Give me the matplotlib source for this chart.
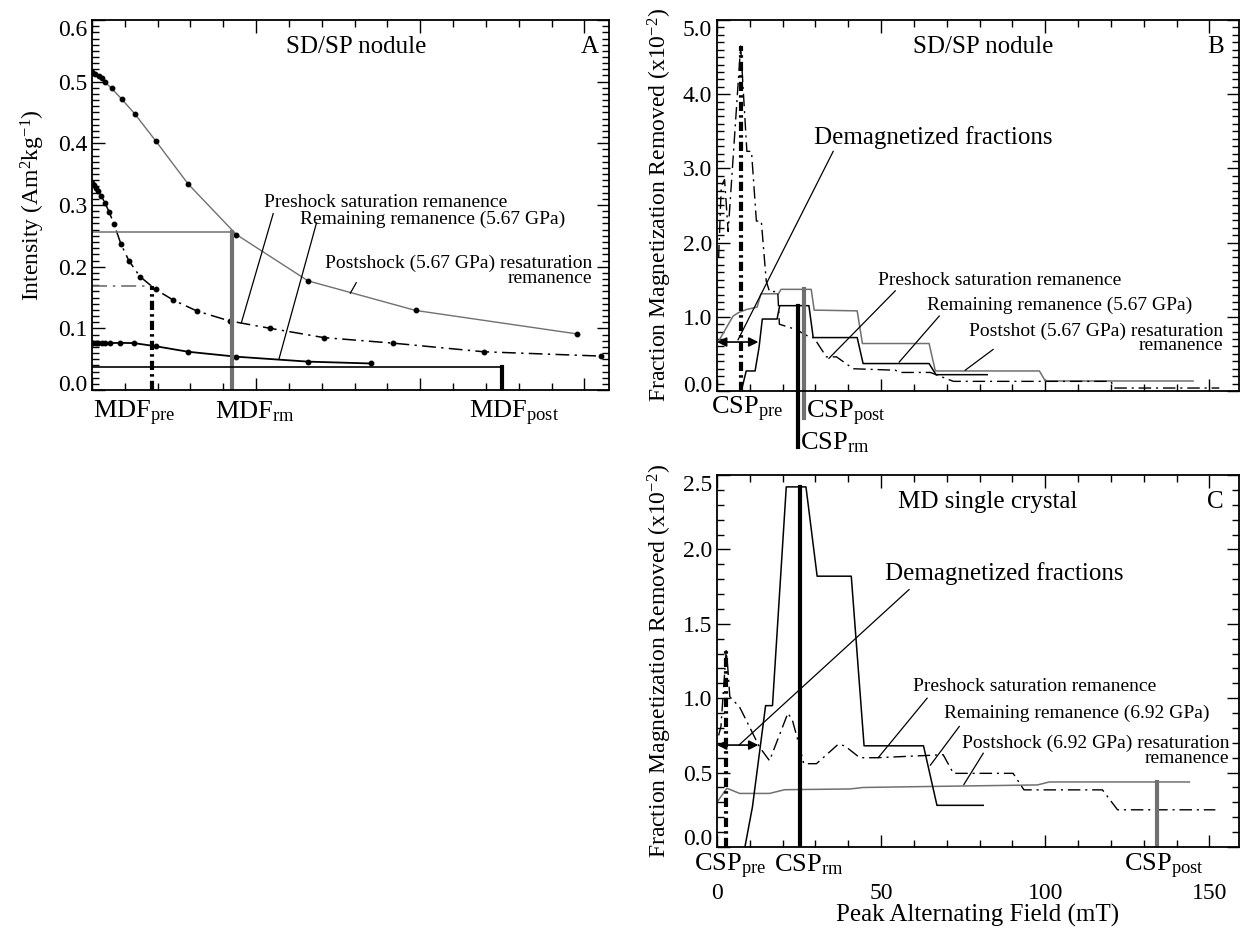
import matplotlib
matplotlib.use("Agg")
import matplotlib.pyplot as plt
from matplotlib.ticker import MultipleLocator, FormatStrFormatter, NullFormatter
from matplotlib.transforms import ScaledTranslation

plt.rcParams['font.family'] = ['Liberation Serif', 'DejaVu Serif']
plt.rcParams['mathtext.fontset'] = 'custom'
plt.rcParams['mathtext.rm'] = 'Liberation Serif'
plt.rcParams['mathtext.default'] = 'regular'

GRAY = '#707070'

# ---- panel A: AF demagnetization curves (mT, Am2/kg)
a_pre_x = [0, 0.7, 1.3, 1.9, 2.8, 4.0, 5.2, 6.7, 8.8, 11.2, 14.6, 19.4, 24.7, 32.0, 41.9, 54.3, 70.6, 91.7, 119.3, 155.0]
a_pre_y = [0.335, 0.332, 0.328, 0.322, 0.315, 0.303, 0.289, 0.269, 0.237, 0.210, 0.184, 0.163, 0.146, 0.128, 0.112, 0.100, 0.085, 0.076, 0.062, 0.055]
a_post_x = [0, 1, 2, 3, 4, 6, 9, 13, 19.4, 29.3, 44.0, 65.8, 98.6, 147.7]
a_post_y = [0.515, 0.512, 0.509, 0.506, 0.499, 0.489, 0.472, 0.448, 0.404, 0.334, 0.252, 0.177, 0.129, 0.091]
a_rm_x = [0, 0.4, 1.2, 1.9, 2.9, 3.9, 5.5, 8.5, 12.8, 19.4, 29.3, 44.0, 65.8, 85.0]
a_rm_y = [0.076, 0.076, 0.076, 0.076, 0.076, 0.076, 0.076, 0.0765, 0.076, 0.071, 0.062, 0.054, 0.046, 0.043]
mdf_pre, half_pre = 18.4, 0.168
mdf_rm, half_rm = 42.8, 0.257
mdf_post, half_post = 124.8, 0.038

# ---- panel B: fraction removed, SD/SP nodule (x10^-2)
b_pre_x = [0.5, 1.3, 2.3, 3.4, 7.2, 9.1, 10.5, 12.0, 13.5, 15.0, 16.0, 18.5, 19.0, 24.0, 28.5, 29.5, 33.3, 36.4, 41.5, 54.3, 56.0, 65.0, 72.0, 120.0, 121.0, 153.0]
b_pre_y = [1.8, 2.76, 2.85, 2.15, 4.65, 3.23, 3.23, 2.29, 2.29, 1.48, 1.34, 1.34, 0.90, 0.83, 0.72, 0.72, 0.46, 0.46, 0.30, 0.28, 0.25, 0.25, 0.13, 0.13, 0.04, 0.04]
b_rm_x = [7.4, 8.9, 11.6, 12.8, 13.8, 18.3, 19.1, 28.0, 29.3, 42.7, 44.5, 64.6, 66.7, 82.3]
b_rm_y = [0.0, 0.27, 0.27, 0.585, 0.97, 0.97, 1.15, 1.15, 0.72, 0.72, 0.37, 0.37, 0.22, 0.22]
b_post_x = [0.6, 4.9, 6.7, 9.1, 12.2, 13.4, 18.7, 19.5, 28.7, 29.6, 42.7, 44.3, 64.6, 66.5, 98.2, 100.0, 145.0]
b_post_y = [0.68, 1.01, 1.06, 1.10, 1.13, 1.31, 1.31, 1.37, 1.37, 1.09, 1.08, 0.64, 0.64, 0.27, 0.27, 0.135, 0.135]
csp_b_pre, csp_b_pre_top = 7.2, 4.65
csp_b_rm, csp_b_rm_top = 24.8, 1.15
csp_b_post, csp_b_post_top = 26.5, 1.37
demag_b = 12.6

# ---- panel C: fraction removed, MD single crystal (x10^-2)
c_pre_x = [0.5, 1.2, 2.8, 3.3, 3.9, 6.9, 13.0, 16.0, 21.6, 23.0, 25.2, 26.4, 30.3, 36.9, 38.9, 43.5, 48.6, 68.9, 72.0, 90.2, 93.5, 117.4, 122.0, 151.8]
c_pre_y = [0.75, 0.81, 1.32, 1.20, 1.01, 0.94, 0.67, 0.58, 0.90, 0.85, 0.67, 0.56, 0.56, 0.69, 0.68, 0.60, 0.60, 0.62, 0.495, 0.495, 0.384, 0.384, 0.25, 0.25]
c_rm_x = [8.5, 10.8, 14.8, 16.9, 21.1, 27.1, 30.5, 40.9, 44.8, 62.9, 67.0, 81.1]
c_rm_y = [0.0, 0.27, 0.95, 0.95, 2.42, 2.42, 1.82, 1.82, 0.68, 0.68, 0.28, 0.28]
c_post_x = [0.3, 3.0, 6.9, 16.0, 20.6, 40.5, 44.5, 75.0, 97.6, 101.2, 143.9]
c_post_y = [0.31, 0.395, 0.36, 0.36, 0.385, 0.39, 0.40, 0.41, 0.417, 0.437, 0.437]
csp_c_pre, csp_c_pre_top = 2.8, 1.32
csp_c_rm, csp_c_rm_top = 25.2, 2.42
csp_c_post, csp_c_post_top = 134.1, 0.437
demag_c = 12.6

DD_THIN = (0, (9, 3.5, 1.5, 3.5))
DD_THICK = (0, (2.2, 1.0, 0.6, 1.0))

fig = plt.figure(figsize=(12.42, 9.30), dpi=100)
W, H = 1242, 930
axA = fig.add_axes([92 / W, 1 - 390 / H, 517 / W, 370 / H])
axB = fig.add_axes([717 / W, 1 - 391 / H, 522 / W, 371 / H])
axC = fig.add_axes([717 / W, 1 - 847 / H, 522 / W, 372 / H])


def style(ax, ymaj, ymin):
    ax.xaxis.set_major_locator(MultipleLocator(50))
    ax.xaxis.set_minor_locator(MultipleLocator(10))
    ax.yaxis.set_major_locator(MultipleLocator(ymaj))
    ax.yaxis.set_minor_locator(MultipleLocator(ymin))
    ax.yaxis.set_major_formatter(FormatStrFormatter('%.1f'))
    ax.tick_params(which='both', direction='in', top=True, right=True, labelsize=17, width=1)
    ax.tick_params(which='major', length=9)
    ax.tick_params(which='minor', length=5)
    for s in ax.spines.values():
        s.set_linewidth(1.3)


def pull_end_labels(ax, up=5, down=6):
    # end labels sit a little inside the axis range, as in the original
    lo, hi = ax.get_ylim()
    locs = ax.yaxis.get_major_locator()()
    ticks = ax.yaxis.get_major_ticks(len(locs))
    for loc, t in zip(locs, ticks):
        if abs(loc - lo) < 1e-9:
            off = ScaledTranslation(0, up / 72, fig.dpi_scale_trans)
            t.label1.set_transform(t.label1.get_transform() + off)
        elif abs(loc - hi) < 1e-9:
            off = ScaledTranslation(0, -down / 72, fig.dpi_scale_trans)
            t.label1.set_transform(t.label1.get_transform() + off)


# ---------------- A
ax = axA
style(ax, 0.1, 0.01)
ax.set_xlim(0, 157.5)
ax.set_ylim(0, 0.6)
ax.xaxis.set_major_formatter(NullFormatter())
ax.plot(a_post_x, a_post_y, color=GRAY, lw=1.0)
ax.plot(a_post_x, a_post_y, 'o', color='black', ms=3.2)
ax.plot(a_pre_x, a_pre_y, color='black', lw=1.1, linestyle=DD_THIN)
ax.plot(a_pre_x, a_pre_y, 'o', color='black', ms=3.2)
ax.plot(a_rm_x, a_rm_y, color='black', lw=1.3)
ax.plot(a_rm_x, a_rm_y, 'o', color='black', ms=3.2)
ax.plot([0, mdf_rm], [half_rm, half_rm], color=GRAY, lw=1.1)
ax.plot([mdf_rm, mdf_rm], [0, half_rm], color=GRAY, lw=3)
ax.plot([0, mdf_pre], [half_pre, half_pre], color=GRAY, lw=1.2, linestyle=DD_THIN)
ax.plot([mdf_pre, mdf_pre], [0, half_pre], color='black', lw=3, linestyle=DD_THICK)
ax.plot([0, mdf_post], [half_post, half_post], color='black', lw=1.2)
ax.plot([mdf_post, mdf_post], [0, half_post], color='black', lw=3)
ax.set_ylabel('Intensity (Am$^{2}$kg$^{-1}$)', fontsize=17, labelpad=8)
ax.text(80.5, 0.557, 'SD/SP nodule', fontsize=18, ha='center', va='center')
ax.text(151.6, 0.557, 'A', fontsize=18, ha='center', va='center')
ax.text(52.5, 0.304, 'Preshock saturation remanence', fontsize=14, ha='left', va='center')
ax.text(63.3, 0.276, 'Remaining remanence (5.67 GPa)', fontsize=14, ha='left', va='center')
ax.text(152.4, 0.205, 'Postshock (5.67 GPa) resaturation', fontsize=14, ha='right', va='center')
ax.text(152.4, 0.181, 'remanence', fontsize=14, ha='right', va='center')
ax.plot([55.2, 45.5], [0.286, 0.109], color='black', lw=0.9)
ax.plot([68.4, 57.0], [0.271, 0.051], color='black', lw=0.9)
ax.plot([80.5, 78.7], [0.174, 0.157], color='black', lw=0.9)
xt = ax.get_xaxis_transform()
ax.text(0.3, -0.025, 'MDF$_{pre}$', fontsize=19, ha='left', va='top', transform=xt)
ax.text(37.5, -0.025, 'MDF$_{rm}$', fontsize=19, ha='left', va='top', transform=xt)
ax.text(114.7, -0.025, 'MDF$_{post}$', fontsize=19, ha='left', va='top', transform=xt)
pull_end_labels(ax)

# ---------------- B
ax = axB
style(ax, 1.0, 0.1)
ax.set_xlim(0, 159)
ax.set_ylim(0, 5.0)
ax.xaxis.set_major_formatter(NullFormatter())
ax.plot(b_post_x, b_post_y, color=GRAY, lw=1.1)
ax.plot(b_rm_x, b_rm_y, color='black', lw=1.1)
ax.plot(b_pre_x, b_pre_y, color='black', lw=1.0, linestyle=DD_THIN)
ax.plot([csp_b_pre, csp_b_pre], [0, csp_b_pre_top], color='black', lw=3, linestyle=DD_THICK)
ax.plot([csp_b_rm, csp_b_rm], [-0.76, csp_b_rm_top], color='black', lw=3, clip_on=False)
ax.plot([csp_b_post, csp_b_post], [-0.37, csp_b_post_top], color=GRAY, lw=3, clip_on=False)
ax.annotate('', xy=(0, 0.66), xytext=(demag_b, 0.66),
            arrowprops=dict(arrowstyle='<|-|>', color='black', lw=1.2, mutation_scale=14, shrinkA=0, shrinkB=0))
ax.plot([35.4, 6.4], [3.23, 0.69], color='black', lw=0.9)
ax.set_ylabel('Fraction Magnetization Removed (x10$^{-2}$)', fontsize=17, labelpad=6)
ax.text(81.1, 4.64, 'SD/SP nodule', fontsize=18, ha='center', va='center')
ax.text(151.8, 4.64, 'B', fontsize=18, ha='center', va='center')
ax.text(29.5, 3.42, 'Demagnetized fractions', fontsize=18, ha='left', va='center')
ax.text(49.1, 1.49, 'Preshock saturation remanence', fontsize=14, ha='left', va='center')
ax.text(64.0, 1.15, 'Remaining remanence (5.67 GPa)', fontsize=14, ha='left', va='center')
ax.text(154.3, 0.81, 'Postshot (5.67 GPa) resaturation', fontsize=14, ha='right', va='center')
ax.text(154.3, 0.61, 'remanence', fontsize=14, ha='right', va='center')
ax.plot([54.3, 34.1], [1.35, 0.44], color='black', lw=0.9)
ax.plot([67.7, 55.5], [1.01, 0.39], color='black', lw=0.9)
ax.plot([84.1, 75.6], [0.56, 0.28], color='black', lw=0.9)
xt = ax.get_xaxis_transform()
ax.text(-1.8, -0.01, 'CSP$_{pre}$', fontsize=19, ha='left', va='top', transform=xt)
ax.text(27.1, -0.02, 'CSP$_{post}$', fontsize=19, ha='left', va='top', transform=xt)
ax.text(25.3, -0.105, 'CSP$_{rm}$', fontsize=19, ha='left', va='top', transform=xt)
pull_end_labels(ax)

# ---------------- C
ax = axC
style(ax, 0.5, 0.1)
ax.set_xlim(0, 159)
ax.set_ylim(0, 2.5)
ax.xaxis.set_major_formatter(FormatStrFormatter('%d'))
ax.tick_params(axis='x', which='major', pad=26)
ax.plot(c_post_x, c_post_y, color=GRAY, lw=1.1)
ax.plot(c_rm_x, c_rm_y, color='black', lw=1.1)
ax.plot(c_pre_x, c_pre_y, color='black', lw=1.0, linestyle=DD_THIN)
ax.plot([csp_c_pre, csp_c_pre], [0, csp_c_pre_top], color='black', lw=3, linestyle=DD_THICK)
ax.plot([csp_c_rm, csp_c_rm], [0, csp_c_rm_top], color='black', lw=3)
ax.plot([csp_c_post, csp_c_post], [0, csp_c_post_top], color=GRAY, lw=3)
ax.annotate('', xy=(0, 0.685), xytext=(demag_c, 0.685),
            arrowprops=dict(arrowstyle='<|-|>', color='black', lw=1.2, mutation_scale=14, shrinkA=0, shrinkB=0))
ax.plot([58.5, 6.7], [1.73, 0.685], color='black', lw=0.9)
ax.set_ylabel('Fraction Magnetization Removed (x10$^{-2}$)', fontsize=17, labelpad=6)
ax.set_xlabel('Peak Alternating Field (mT)', fontsize=18, labelpad=0)
ax.text(82.3, 2.32, 'MD single crystal', fontsize=18, ha='center', va='center')
ax.text(151.8, 2.32, 'C', fontsize=18, ha='center', va='center')
ax.text(51.2, 1.84, 'Demagnetized fractions', fontsize=18, ha='left', va='center')
ax.text(59.8, 1.08, 'Preshock saturation remanence', fontsize=14, ha='left', va='center')
ax.text(69.1, 0.90, 'Remaining remanence (6.92 GPa)', fontsize=14, ha='left', va='center')
ax.text(156.1, 0.695, 'Postshock (6.92 GPa) resaturation', fontsize=14, ha='right', va='center')
ax.text(156.1, 0.595, 'remanence', fontsize=14, ha='right', va='center')
ax.plot([64.0, 49.1], [1.0, 0.60], color='black', lw=0.9)
ax.plot([73.8, 65.0], [0.81, 0.55], color='black', lw=0.9)
ax.plot([81.1, 75.2], [0.63, 0.42], color='black', lw=0.9)
xt = ax.get_xaxis_transform()
ax.text(-7.0, -0.014, 'CSP$_{pre}$', fontsize=19, ha='left', va='top', transform=xt)
ax.text(17.4, -0.014, 'CSP$_{rm}$', fontsize=19, ha='left', va='top', transform=xt)
ax.text(124.0, -0.014, 'CSP$_{post}$', fontsize=19, ha='left', va='top', transform=xt)
pull_end_labels(ax, up=7)

fig.savefig('out.png', dpi=100)
